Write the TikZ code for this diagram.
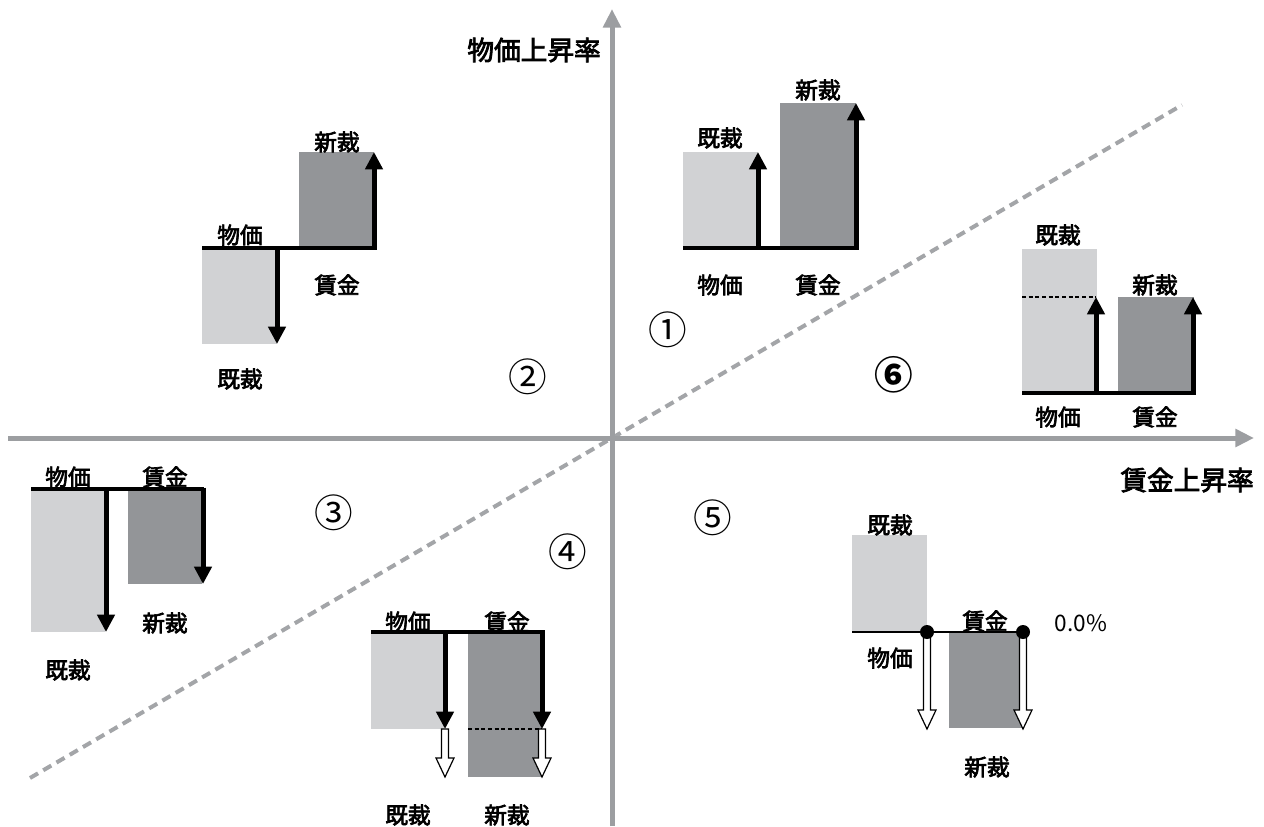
\documentclass[tikz,border=0pt]{standalone}
\usepackage{fontspec}
\setmainfont{Noto Sans CJK JP}
\newfontfamily\medfont{Noto Sans CJK JP}[FakeBold=3]
\usetikzlibrary{arrows.meta}
\definecolor{lightbox}{HTML}{D1D2D4}
\definecolor{darkbox}{HTML}{939598}
\definecolor{axisgray}{HTML}{9C9EA1}
\definecolor{diaggray}{HTML}{A3A5A8}
\newcommand\hollowarrow[3]{%
  \draw[black, line width=0.9pt, fill=white, line join=miter]
    (#1-3.5,#2) -- (#1-3.5,#3-19) -- (#1-9,#3-19) -- (#1,#3) -- (#1+9,#3-19) -- (#1+3.5,#3-19) -- (#1+3.5,#2) -- cycle;}
\begin{document}
\begin{tikzpicture}[x=0.75pt,y=-0.75pt,
  lbl/.style={font=\medfont\fontsize{17}{20}\selectfont, inner sep=0pt},
  axlbl/.style={font=\medfont\fontsize{20}{24}\selectfont, inner sep=0pt},
  num/.style={font=\fontsize{29}{32}\selectfont, inner sep=0pt},
  base/.style={line width=3pt, black},
  barrow/.style={line width=3.75pt, black, -{Triangle[width=12.75pt,length=13pt]}},
  axis/.style={line width=3.75pt, axisgray, -{Triangle[width=13pt,length=14pt]}},
]
\useasboundingbox (0,0) rectangle (1264,826);
% diagonal
\coordinate (d1) at (30,778);
\coordinate (d2) at (1182,105);
\draw[diaggray, line width=3pt, dash pattern=on 7pt off 4.5pt] (d1) -- (d2);
% axes
\coordinate (xa) at (8,438);
\coordinate (xb) at (1254,438);
\coordinate (ya) at (612,826);
\coordinate (yb) at (612,9);
\draw[axis] (xa) -- (xb);
\draw[axis] (ya) -- (yb);
\node[axlbl, anchor=east] (ylab) at (601,50) {物価上昇率};
\node[axlbl, anchor=east] (xlab) at (1254,480) {賃金上昇率};

% numbers
\node[num] (n1) at (668,330) {①};
\node[num] (n2) at (528,377) {②};
\node[num] (n3) at (334,513) {③};
\node[num] (n4) at (568,552) {④};
\node[num] (n5) at (713,518) {⑤};
\node[num, font=\fontsize{29}{32}\selectfont\bfseries] (n6) at (894,375) {⑥};

% ---- quadrant 1
\fill[lightbox] (683,152) rectangle (758,248);
\fill[darkbox] (780,103) rectangle (856,248);
\draw[base] (683,248) -- (858,248);
\draw[barrow] (758,249.5) -- (758,152);
\draw[barrow] (856,249.5) -- (856,103);
\node[lbl] (q1a) at (720,138) {既裁};
\node[lbl] (q1b) at (818,90) {新裁};
\node[lbl] (q1c) at (720,285) {物価};
\node[lbl] (q1d) at (818,285) {賃金};

% ---- quadrant 6
\fill[lightbox] (1022,249) rectangle (1097,393);
\fill[darkbox] (1118,297) rectangle (1194,393);
\draw[black, line width=1.2pt, dash pattern=on 3pt off 2pt] (1022,297) -- (1096,297);
\draw[base] (1022,393) -- (1196,393);
\draw[barrow] (1096,394.5) -- (1096,297);
\draw[barrow] (1193,394.5) -- (1193,297);
\node[lbl] (q6a) at (1058,235) {既裁};
\node[lbl] (q6b) at (1155,285) {新裁};
\node[lbl] (q6c) at (1058,417) {物価};
\node[lbl] (q6d) at (1155,417) {賃金};

% ---- quadrant 2
\fill[darkbox] (299,152) rectangle (374,248);
\fill[lightbox] (202,248) rectangle (277,344);
\draw[base] (202,248) -- (376,248);
\draw[barrow] (277,246.5) -- (277,344);
\draw[barrow] (374,249.5) -- (374,152);
\node[lbl] (q2a) at (337,142) {新裁};
\node[lbl] (q2b) at (240,235) {物価};
\node[lbl] (q2c) at (337,285) {賃金};
\node[lbl] (q2d) at (240,379) {既裁};

% ---- quadrant 3
\fill[lightbox] (31,489) rectangle (105,632);
\fill[darkbox] (128,489) rectangle (202,584);
\draw[base] (31,489) -- (204,489);
\draw[barrow] (106,487.5) -- (106,632);
\draw[barrow] (203,487.5) -- (203,584);
\node[lbl] (q3a) at (68,477) {物価};
\node[lbl] (q3b) at (165,477) {賃金};
\node[lbl] (q3c) at (165,623) {新裁};
\node[lbl] (q3d) at (68,670) {既裁};

% ---- quadrant 4
\fill[lightbox] (371,632) rectangle (444,729);
\fill[darkbox] (468,632) rectangle (542,777);
\draw[black, line width=1.2pt, dash pattern=on 3pt off 2pt] (468,729) -- (542,729);
\draw[base] (371,632) -- (545,632);
\draw[barrow] (445,630.5) -- (445,729);
\draw[barrow] (542,630.5) -- (542,729);
\hollowarrow{445}{729}{777}
\hollowarrow{542}{729}{777}
\node[lbl] (q4a) at (408,622) {物価};
\node[lbl] (q4b) at (507,622) {賃金};
\node[lbl] (q4c) at (408,815) {既裁};
\node[lbl] (q4d) at (507,815) {新裁};

% ---- quadrant 5
\fill[lightbox] (852,535) rectangle (927,632);
\fill[darkbox] (949,632) rectangle (1023,728);
\draw[black, line width=2.2pt] (852,632) -- (1025,632);
\hollowarrow{927}{634}{729}
\hollowarrow{1023}{634}{729}
\fill[black] (927,632) circle (7);
\fill[black] (1023,632) circle (7);
\node[lbl] (q5a) at (890,525) {既裁};
\node[lbl] (q5b) at (985,621) {賃金};
\node[inner sep=0pt, font=\fontsize{17}{20}\selectfont] (q5z) at (1081,623) {0.0\%};
\node[lbl] (q5c) at (890,658) {物価};
\node[lbl] (q5d) at (987,767) {新裁};
\end{tikzpicture}
\end{document}
